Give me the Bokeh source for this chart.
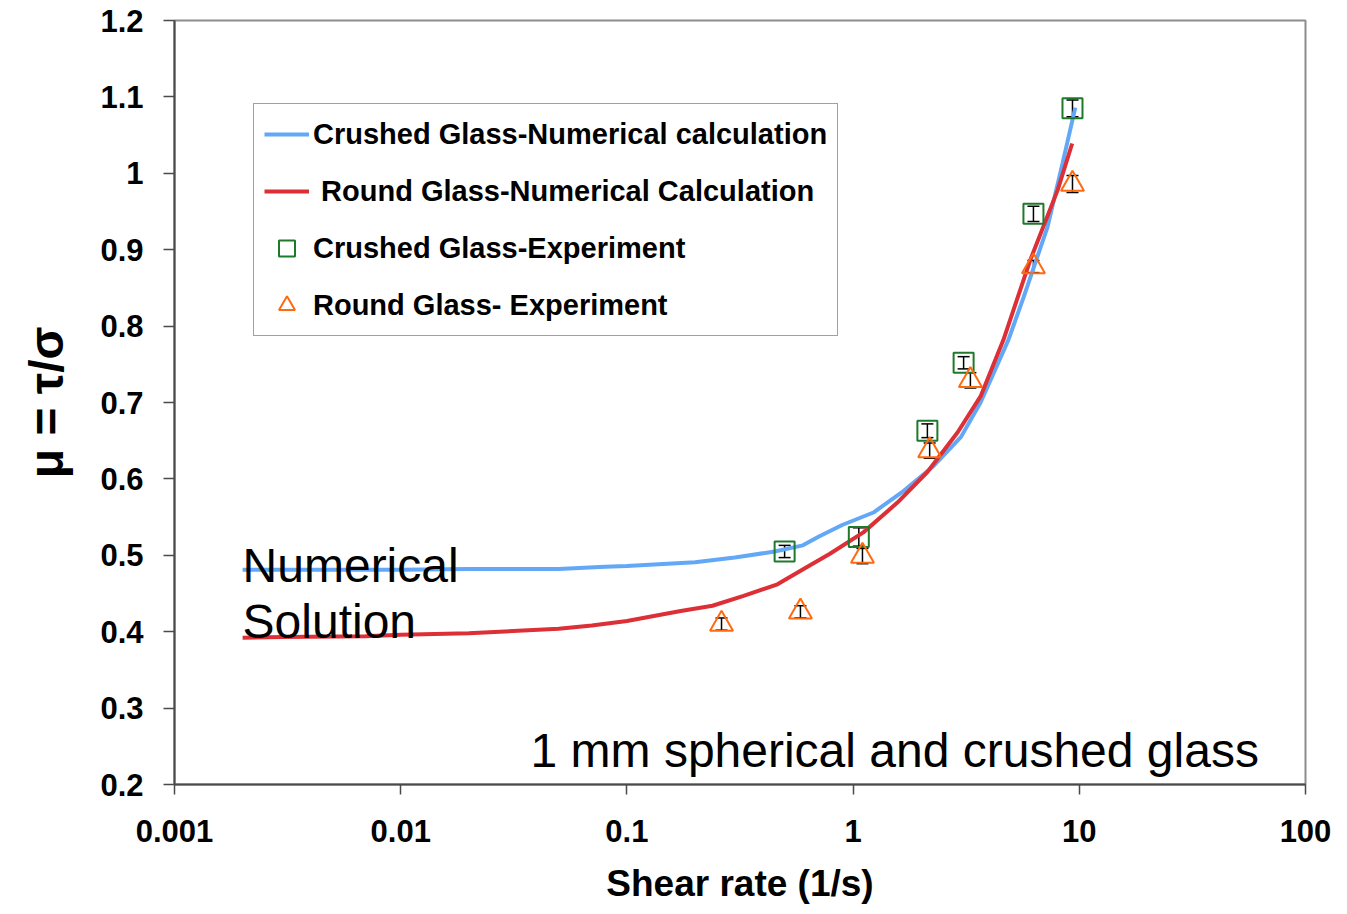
import numpy as np
from bokeh.plotting import figure
from bokeh.models import (ColumnDataSource, Whisker, TeeHead, FixedTicker, Label,
                          Legend, LegendItem)
from bokeh.embed import file_html
from bokeh.resources import INLINE

# ---------------- data ----------------
crushed_num_x = [0.002, 0.005, 0.01, 0.02, 0.05, 0.08, 0.1, 0.2, 0.3, 0.45, 0.6, 0.71,
                 0.9, 1.23, 1.67, 2.27, 3.0, 3.66, 4.86, 5.66, 7.24, 8.43, 9.6]
crushed_num_y = [0.481, 0.481, 0.481, 0.482, 0.482, 0.485, 0.486, 0.491, 0.497, 0.505,
                 0.513, 0.525, 0.540, 0.556, 0.584, 0.617, 0.655, 0.700, 0.782, 0.837,
                 0.930, 1.013, 1.086]

round_num_x = [0.002, 0.003, 0.007, 0.01, 0.02, 0.05, 0.07, 0.1, 0.173, 0.239, 0.328,
               0.463, 0.604, 0.79, 1.11, 1.57, 2.13, 2.90, 3.66, 4.62, 6.08, 8.02, 9.3]
round_num_y = [0.392, 0.393, 0.394, 0.396, 0.398, 0.404, 0.408, 0.414, 0.427, 0.434,
               0.447, 0.462, 0.482, 0.502, 0.530, 0.569, 0.609, 0.661, 0.708, 0.782,
               0.887, 0.978, 1.039]

crushed_exp_x = [0.498, 1.06, 2.13, 3.08, 6.27, 9.33]
crushed_exp_y = [0.505, 0.524, 0.663, 0.752, 0.947, 1.085]
crushed_exp_err = [0.008, 0.012, 0.009, 0.008, 0.010, 0.011]

round_exp_x = [0.262, 0.585, 1.10, 2.18, 3.30, 6.27, 9.33]
round_exp_y = [0.410, 0.426, 0.499, 0.637, 0.729, 0.878, 0.986]
round_exp_err = [0.008, 0.008, 0.010, 0.010, 0.010, 0.008, 0.011]

x_tick_values = [0.001, 0.01, 0.1, 1, 10, 100]
x_tick_labels = ["0.001", "0.01", "0.1", "1", "10", "100"]
y_tick_values = [0.2, 0.3, 0.4, 0.5, 0.6, 0.7, 0.8, 0.9, 1, 1.1, 1.2]
y_tick_labels = ["0.2", "0.3", "0.4", "0.5", "0.6", "0.7", "0.8", "0.9", "1", "1.1", "1.2"]

legend_labels = ["Crushed Glass-Numerical calculation",
                 " Round Glass-Numerical Calculation",
                 "Crushed Glass-Experiment",
                 "Round Glass- Experiment"]

FONT = "Liberation Sans"
BLUE = "#62a8f7"
RED = "#dc2f36"
GREEN = "#1e7a2a"
ORANGE = "#ff6a10"

# ---------------- figure ----------------
p = figure(width=1339, height=906, x_axis_type="log",
           x_range=(0.001, 100), y_range=(0.2, 1.2),
           output_backend="svg", toolbar_location=None,
           min_border_left=174, min_border_right=34,
           min_border_top=20, min_border_bottom=120)
p.grid.visible = False
p.background_fill_color = "white"
p.border_fill_color = "white"
p.outline_line_color = "#8c8c8c"
p.outline_line_width = 2

for ax in (p.xaxis[0], p.yaxis[0]):
    ax.axis_line_color = "#4a4a4a"
    ax.axis_line_width = 2
    ax.major_tick_line_color = "#4a4a4a"
    ax.major_tick_line_width = 1.5
    ax.major_tick_in = 0
    ax.minor_tick_line_color = None
    ax.major_label_text_font = FONT
    ax.major_label_text_font_style = "bold"
    ax.major_label_text_font_size = "31px"
    ax.major_label_text_line_height = 1.0
    ax.major_label_text_color = "black"
    ax.axis_label_text_color = "black"
    ax.axis_label_text_font = FONT
    ax.axis_label_text_line_height = 1.0

p.xaxis.ticker = FixedTicker(ticks=x_tick_values)
p.xaxis.major_label_overrides = dict(zip(x_tick_values, x_tick_labels))
p.xaxis.major_tick_out = 10
p.xaxis.major_label_standoff = 25
p.xaxis.axis_label = "Shear rate (1/s)"
p.xaxis.axis_label_text_font_size = "37px"
p.xaxis.axis_label_text_font_style = "bold"
p.xaxis.axis_label_standoff = 18

p.yaxis.ticker = FixedTicker(ticks=y_tick_values)
p.yaxis.major_label_overrides = dict(zip(y_tick_values, y_tick_labels))
p.yaxis.major_tick_out = 11
p.yaxis.major_label_standoff = 20
p.yaxis.axis_label = "μ = τ/σ"
p.yaxis.axis_label_text_font_size = "48px"
p.yaxis.axis_label_text_font_style = "bold"
p.yaxis.axis_label_standoff = 24

# ---------------- marks ----------------
r_blue = p.line(crushed_num_x, crushed_num_y, line_color=BLUE, line_width=4)
r_red = p.line(round_num_x, round_num_y, line_color=RED, line_width=4)

ce = np.array(crushed_exp_err)
re_ = np.array(round_exp_err)
src_c = ColumnDataSource(dict(x=crushed_exp_x, y=crushed_exp_y,
                              lo=np.array(crushed_exp_y) - ce,
                              hi=np.array(crushed_exp_y) + ce))
src_r = ColumnDataSource(dict(x=round_exp_x, y=round_exp_y,
                              lo=np.array(round_exp_y) - re_,
                              hi=np.array(round_exp_y) + re_))

r_sq = p.scatter("x", "y", source=src_c, marker="square", size=20,
                 fill_color=None, line_color=GREEN, line_width=2)
r_tri = p.scatter("x", "y", source=src_r, marker="triangle", size=23,
                  fill_color=None, line_color=ORANGE, line_width=2)

for src in (src_c, src_r):
    w = Whisker(source=src, base="x", upper="hi", lower="lo", dimension="height",
                line_color="black", line_width=1.5,
                upper_head=TeeHead(size=12, line_color="black", line_width=1.5),
                lower_head=TeeHead(size=12, line_color="black", line_width=1.5))
    p.add_layout(w)

# ---------------- annotations ----------------
for txt, xx, yy in (("Numerical", 0.002, 0.486), ("Solution", 0.002, 0.414),
                    ("1 mm spherical and crushed glass", 0.0375, 0.244)):
    p.add_layout(Label(x=xx, y=yy, text=txt, text_font=FONT, text_font_size="48px",
                       text_color="black", text_baseline="alphabetic", text_align="left"))

# ---------------- legend ----------------
legend = Legend(items=[LegendItem(label=legend_labels[0], renderers=[r_blue]),
                       LegendItem(label=legend_labels[1], renderers=[r_red]),
                       LegendItem(label=legend_labels[2], renderers=[r_sq]),
                       LegendItem(label=legend_labels[3], renderers=[r_tri])],
                location=(79, 448), margin=0, padding=10, spacing=17,
                glyph_width=45, glyph_height=40, label_height=40, label_standoff=4,
                label_text_font=FONT, label_text_font_size="29px",
                label_text_font_style="bold", label_text_color="black",
                border_line_color="#444444", border_line_width=1,
                background_fill_color="white", background_fill_alpha=1)
p.add_layout(legend, "center")

open("out.html", "w").write(file_html(p, INLINE))
